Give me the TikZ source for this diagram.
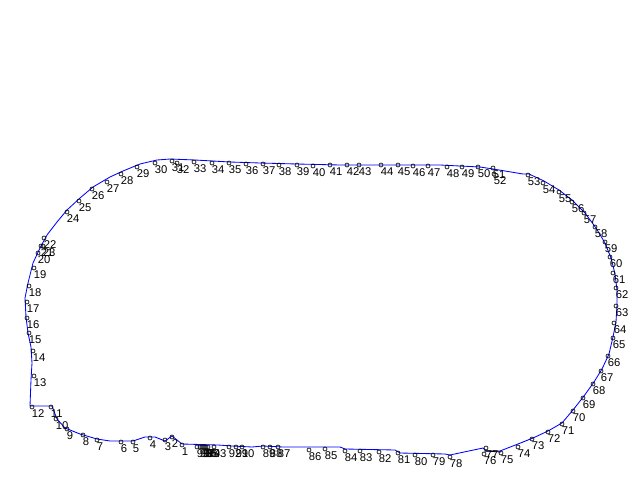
\documentclass[tikz,border=0pt]{standalone}
\usepackage{fontspec}
\setmainfont{Liberation Sans}
\usetikzlibrary{calc,positioning}

\begin{document}
\begin{tikzpicture}[x=0.025cm, y=-0.025cm, line width=.2mm,
            ptmark/.style={
            circle,
            draw=black,
            line width=0.45pt,
            inner sep=0pt,
            minimum size=0.1cm},
            numlabel/.style={
            anchor=north west,
            inner sep=0pt,
            font=\fontsize{8}{8}\selectfont},
            outline/.style={
            draw=blue,
            line width=0.6pt,
            line join=round}]

   \useasboundingbox (0,0) rectangle (640,480);

   % contour
   \draw[outline] plot coordinates {
       (30,406) (52,406) (57,419) (65,428) (80,434) (97,439) (110,441) (133,441)
       (145,437) (155,437) (165,441) (172,436) (182,444) (218,445) (232,446)
       (252,447) (263,446) (283,447) (340,447) (345,449) (395,450) (400,453)
       (445,454) (450,455) (483,448) (486,451) (500,451) (518,444) (533,438)
       (548,431) (562,423) (573,410) (584,396) (594,382) (602,369) (609,354)
       (613,337) (616,322) (617,305) (617,290) (615,274) (611,258) (605,243)
       (596,228) (585,213) (572,200) (559,190) (544,181) (529,174) (523,174)
       (493,169) (480,167) (440,165) (340,165) (297,164) (260,163) (230,162)
       (195,160) (170,159) (157,160) (140,164) (123,171) (110,177) (93,187)
       (80,198) (67,210) (57,222) (47,235) (40,248) (33,263) (28,283) (25,298)
       (26,317) (28,333) (31,347) (32,363) (31,380) (30,406)};
   \draw[black, line width=0.6pt] (484,451) -- (501,452);

   % numbered points
   \foreach \n/\x/\y in {1/182/445, 2/172/437, 3/165/440, 4/150/438, 5/133/442,
       6/121/442, 7/97/440, 8/83/435, 9/67/429, 10/56/419, 11/51/407, 12/32/407,
       13/34/376, 14/33/351, 15/29/333, 16/27/318, 17/27/302, 18/29/286, 19/34/268,
       20/38/253, 21/41/246, 22/44/238, 23/43/246, 24/67/212, 25/79/201, 26/92/189,
       27/107/182, 28/121/174, 29/137/167, 30/155/163, 31/172/161, 32/177/163,
       33/194/162, 34/212/163, 35/229/163, 36/246/164, 37/263/164, 38/279/165,
       39/297/165, 40/313/166, 41/330/165, 42/347/165, 43/359/165, 44/381/165,
       45/398/165, 46/413/166, 47/428/166, 48/447/167, 49/462/167, 50/478/167,
       51/493/168, 52/494/174, 53/528/175, 54/543/183, 55/559/192, 56/572/202,
       57/584/213, 58/595/227, 59/605/242, 60/610/257, 61/613/273, 62/616/288,
       63/616/306, 64/614/323, 65/613/338, 66/608/356, 67/601/371, 68/593/384,
       69/583/398, 70/573/411, 71/562/424, 72/548/432, 73/532/439, 74/518/447,
       75/501/453, 76/484/454, 77/486/448, 78/450/457, 79/433/455, 80/415/455,
       81/398/453, 82/379/452, 83/360/451, 84/345/451, 85/325/449, 86/309/450,
       87/278/447, 88/270/447, 89/263/447, 90/242/447, 91/236/447, 92/229/447,
       93/214/447, 94/208/447, 95/206/447, 96/204/447, 97/202/447, 98/200/447,
       99/197/447}
   {
       \node[ptmark] (p\n) at (\x,\y) {};
       \node[numlabel] (t\n) at ([shift={(-0.5,2.5)}]p\n.center) {\n};
   }
\end{tikzpicture}
\end{document}
